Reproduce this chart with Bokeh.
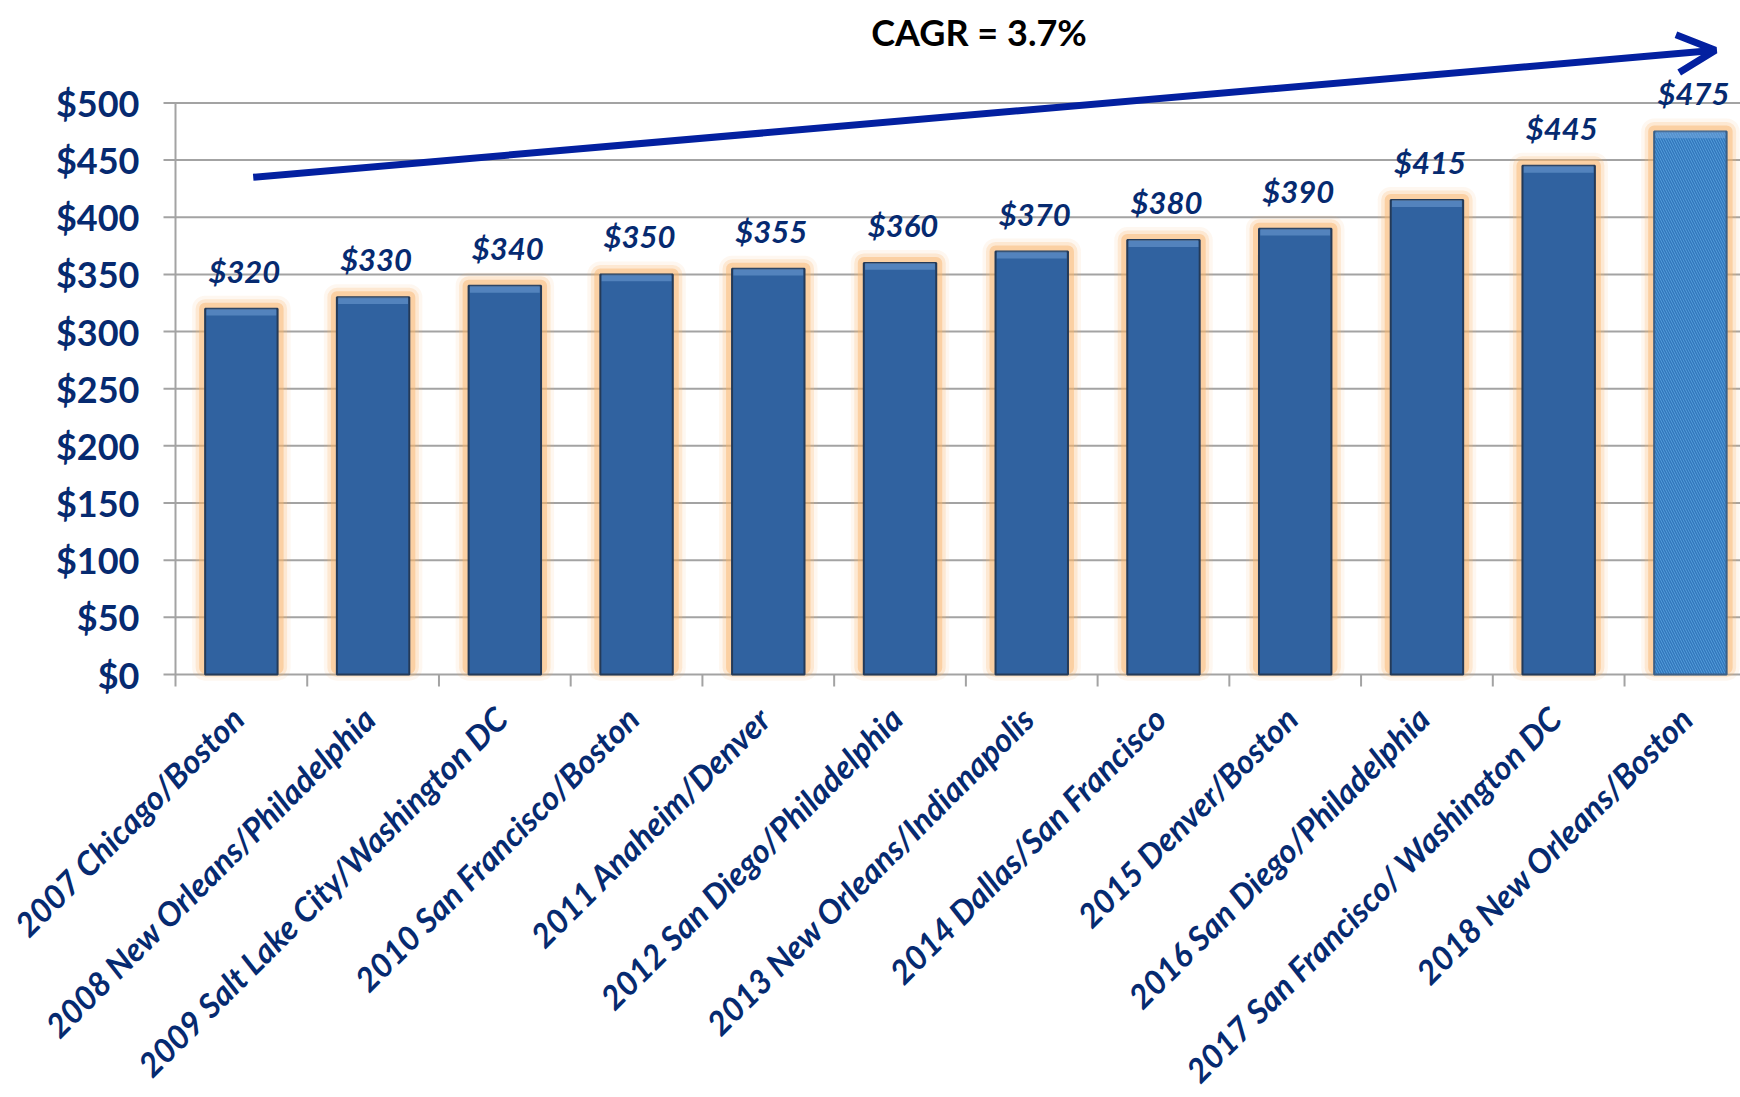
import math
from bokeh.plotting import figure
from bokeh.models import Range1d, Arrow, OpenHead, Label, ColumnDataSource
from bokeh.embed import file_html
from bokeh.resources import INLINE
from bokeh.core.properties import value

# ---- data ----
categories = [
    "2007 Chicago/Boston",
    "2008 New Orleans/Philadelphia",
    "2009 Salt Lake City/Washington DC",
    "2010 San Francisco/Boston",
    "2011 Anaheim/Denver",
    "2012 San Diego/Philadelphia",
    "2013 New Orleans/Indianapolis",
    "2014 Dallas/San Francisco",
    "2015 Denver/Boston",
    "2016 San Diego/Philadelphia",
    "2017 San Francisco/ Washington DC",
    "2018 New Orleans/Boston",
]
prices = [320, 330, 340, 350, 355, 360, 370, 380, 390, 415, 445, 475]
y_ticks = [0, 50, 100, 150, 200, 250, 300, 350, 400, 450, 500]
y_tick_labels = ["$0", "$50", "$100", "$150", "$200", "$250", "$300",
                 "$350", "$400", "$450", "$500"]
cagr_text = "CAGR = 3.7%"
trend_x = [0.59, 11.69]
trend_y = [435, 546]
title_pos = (6.1, 562)

# ---- derived ----
n = len(categories)
centers = [i + 0.5 for i in range(n)]
boundaries = list(range(n))
labels = ["$%d" % v for v in prices]

NAVY = "#062A70"
GRID = "#A3A3A3"
FONT = "Lato"
W, H = 1740, 1097
LEFT, BASE = 175, 674          # pixel position of the value axis / category axis
PX_Y = 1.1432                  # pixels per dollar
PX_X = 131.73                  # pixels per category
X_END = (W - LEFT) / PX_X
TICK_Y = 12 / PX_Y
TICK_X = 12 / PX_X

src_hist = ColumnDataSource(dict(x=centers[:-1], top=prices[:-1]))
src_proj = ColumnDataSource(dict(x=centers[-1:], top=prices[-1:]))
src_all = ColumnDataSource(dict(x=centers, top=prices, lab=labels,
                                hl=[v - 6 for v in prices]))
src_cat = ColumnDataSource(dict(x=centers, y=[0] * n, name=categories))
src_xtick = ColumnDataSource(dict(x=boundaries, y0=[0] * n, y1=[-TICK_Y] * n))
src_grid = ColumnDataSource(dict(y=y_ticks, x0=[-TICK_X] * len(y_ticks),
                                 x1=[X_END] * len(y_ticks), lab=y_tick_labels,
                                 xl=[0] * len(y_ticks)))

p = figure(width=W, height=H, output_backend="svg", toolbar_location=None,
           x_range=Range1d(-LEFT / PX_X, X_END),
           y_range=Range1d(-(H - BASE) / PX_Y, BASE / PX_Y),
           min_border=0)
p.outline_line_color = None
p.background_fill_color = "white"
p.xaxis.visible = False
p.yaxis.visible = False
p.grid.visible = False

# value grid lines (with their tick stubs left of the axis)
p.segment(x0="x0", y0="y", x1="x1", y1="y", source=src_grid,
          line_color=GRID, line_width=2)
# value axis line
p.segment(x0=[0], y0=[y_ticks[0]], x1=[0], y1=[y_ticks[-1]],
          line_color=GRID, line_width=2)
# category ticks at the category boundaries
p.segment(x0="x", y0="y0", x1="x", y1="y1", source=src_xtick,
          line_color=GRID, line_width=2)

# glow
for lw, a in [(26, 0.10), (19, 0.22), (12, 0.45)]:
    p.vbar(x="x", top="top", bottom=6, width=0.55, source=src_all,
           fill_color=None, line_color="#F9B46A", line_alpha=a,
           line_width=lw, line_join="round")

# bars
p.vbar(x="x", top="top", bottom=0, width=0.55, source=src_hist,
       fill_color="#3062A0", line_color="#243A58", line_width=2)
p.vbar(x="x", top="top", bottom=0, width=0.55, source=src_proj,
       fill_color="#5AA5E1", line_color="#3A5F86", line_width=2,
       hatch_pattern="\\", hatch_color="#2F72B8", hatch_scale=5,
       hatch_weight=1.6, hatch_alpha=0.9)
# top highlight (bevel)
p.vbar(x="x", top="top", bottom="hl", width=0.53, source=src_all,
       fill_color="#7FAEE0", fill_alpha=0.45, line_color=None)

# value labels above bars
p.text(x="x", y="top", text="lab", source=src_all, x_offset=3, y_offset=-38,
       text_align="center", text_baseline="middle",
       text_font=value(FONT), text_font_style="bold italic",
       text_font_size="31px", text_color=NAVY)

# value-axis tick labels
p.text(x="xl", y="y", text="lab", source=src_grid, x_offset=-36,
       text_align="right", text_baseline="middle",
       text_font=value(FONT), text_font_style="bold",
       text_font_size="36px", text_color=NAVY)

# rotated category labels
p.text(x="x", y="y", text="name", source=src_cat,
       angle=math.pi / 4, x_offset=-4, y_offset=38,
       text_align="right", text_baseline="middle",
       text_font=value(FONT), text_font_style="bold italic",
       text_font_size="33px", text_color=NAVY)

# CAGR arrow + title
p.add_layout(Arrow(end=OpenHead(size=38, line_width=7, line_color="#0320A0"),
                   x_start=trend_x[0], y_start=trend_y[0],
                   x_end=trend_x[1], y_end=trend_y[1],
                   line_width=7, line_color="#0320A0"))
p.add_layout(Label(x=title_pos[0], y=title_pos[1], text=cagr_text,
                   text_align="center", text_baseline="middle",
                   text_font=FONT, text_font_style="bold",
                   text_font_size="36px", text_color="black"))

open("out.html", "w").write(file_html(p, INLINE))
